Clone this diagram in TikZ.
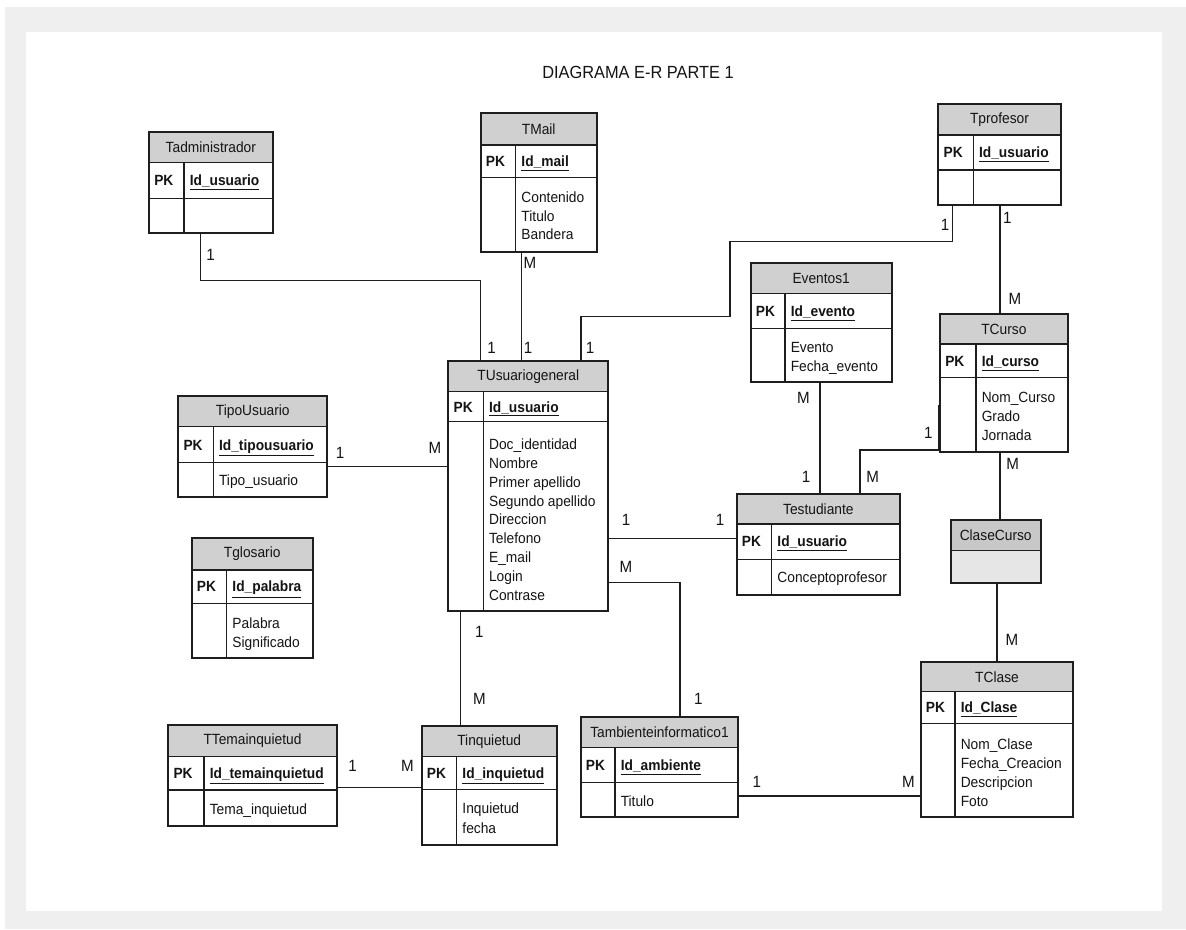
\documentclass[tikz,border=0pt]{standalone}
\usepackage{fontspec}
\setmainfont{Liberation Sans}[FakeStretch=0.93]
\usetikzlibrary{fit}
\definecolor{framegray}{HTML}{EFEFEF}
\definecolor{hdrgray}{HTML}{D0D0D0}
\definecolor{hdrgraydark}{HTML}{C8C8C8}
\definecolor{ccbody}{HTML}{E6E6E6}
\definecolor{lnc}{HTML}{1E1E1E}
\definecolor{txc}{HTML}{141414}
\tikzset{
  hdrfill/.style={fill=hdrgray},
  tline/.style={draw=lnc, line width=1.1pt},
  tframe/.style={draw=lnc, line width=1.3pt, inner sep=0pt},
  ttitle/.style={font=\fontsize{11.1}{13}\selectfont, inner sep=0pt, text=txc},
  tpk/.style={font=\fontsize{11.1}{13}\selectfont\bfseries, inner sep=0pt, text=txc, anchor=base west},
  tfld/.style={font=\fontsize{11.1}{13}\selectfont, inner sep=0pt, text=txc, anchor=base west},
  conn/.style={draw=lnc, line width=1pt},
  card/.style={font=\fontsize{12.2}{14}\selectfont, inner sep=0pt, text=txc},
  ttl/.style={font=\fontsize{13.2}{15}\selectfont, inner sep=0pt, text=txc}
}
% table box: id, x1, y1, x2, y2, yh, ypk, xd, title
\newcommand\tblbox[9]{%
  \def\Ta{#2}\def\Tb{#3}\def\Tc{#4}\def\Td{#5}\def\Th{#6}\def\Tp{#7}\def\Tx{#8}\def\Tid{#1}%
  \fill[hdrfill] (#2,#3) rectangle (#4,#6);
  \draw[tline] (#2,#6) -- (#4,#6) (#2,#7) -- (#4,#7) (#8,#6) -- (#8,#5);
  \node[tframe, fit={(#2,#3) (#4,#5)}] (#1) {};
  \node[ttitle] (#1-t) at ({(#2+#4)/2},{(#3+#6)/2}) {#9};
}
% pk row: field name
\newcommand\tblpk[1]{%
  \node[tpk] (\Tid-pk) at ({\Ta+5},{(\Th+\Tp)/2+5.3}) {PK};
  \node[tpk] (\Tid-k) at ({\Tx+5.5},{(\Th+\Tp)/2+5.3}) {\underline{#1}};
}
% fields: first center y, spacing, list
\newcommand\tblfields[3]{%
  \foreach \f [count=\i] in {#3} {\node[tfld] (\Tid-f\i) at ({\Tx+5.5},{#1+(\i-1)*#2+5.3}) {\f};}
}
\begin{document}
\begin{tikzpicture}[x=0.75pt,y=-0.75pt]
\useasboundingbox (0,0) rectangle (1186,929);
\fill[white] (0,0) rectangle (1186,929);
\fill[framegray] (5,7) rectangle (1186,929);
\fill[white] (26,32) rectangle (1162,911);

\node[ttl] (title) at (638,72) {DIAGRAMA E-R PARTE 1};

% ---- tables
\tblbox{tadm}{149}{132.3}{272.7}{232.7}{162.7}{198.3}{184}{Tadministrador}
\tblpk{Id\_usuario}

\tblbox{tmail}{480.7}{113.3}{596.7}{251.7}{145}{177.3}{515.7}{TMail}
\tblpk{Id\_mail}
\tblfields{197}{18.8}{Contenido,Titulo,Bandera}

\tblbox{tprof}{938.3}{104}{1060.7}{205}{135}{170}{973.3}{Tprofesor}
\tblpk{Id\_usuario}

\tblbox{tev}{750.7}{263.3}{891.7}{382.3}{293.3}{328.3}{785}{Eventos1}
\tblpk{Id\_evento}
\tblfields{346.7}{19}{Evento,Fecha\_evento}

\tblbox{tcur}{940}{314}{1067.7}{451.7}{344}{377.7}{976}{TCurso}
\tblpk{Id\_curso}
\tblfields{397.3}{19}{Nom\_Curso,Grado,Jornada}

\tblbox{tus}{448.3}{360.7}{608.3}{610.7}{391.7}{421.7}{483.3}{TUsuariogeneral}
\tblpk{Id\_usuario}
\tblfields{444.3}{18.8}{Doc\_identidad,Nombre,Primer apellido,Segundo apellido,Direccion,Telefono,E\_mail,Login,Contrase}

\tblbox{ttipo}{178.3}{396}{327.3}{496.7}{426.7}{462.7}{213.3}{TipoUsuario}
\tblpk{Id\_tipousuario}
\tblfields{480}{18.8}{Tipo\_usuario}

\tblbox{tglo}{191.7}{538.3}{312.7}{658.3}{570}{603.3}{226.7}{Tglosario}
\tblpk{Id\_palabra}
\tblfields{623.3}{18.6}{Palabra,Significado}

\tblbox{test}{736.7}{494}{900}{595}{524}{559.3}{771.7}{Testudiante}
\tblpk{Id\_usuario}
\tblfields{577.5}{18.8}{Conceptoprofesor}

\tblbox{tclase}{920.7}{661.7}{1073.3}{817.3}{691.7}{723.3}{955}{TClase}
\tblpk{Id\_Clase}
\tblfields{744}{19}{Nom\_Clase,Fecha\_Creacion,Descripcion,Foto}

\tblbox{ttema}{168.3}{725}{336.7}{826}{756.7}{790}{204}{TTemainquietud}
\tblpk{Id\_temainquietud}
\tblfields{809}{18.8}{Tema\_inquietud}

\tblbox{tinq}{421.7}{726}{556.7}{845}{756.7}{789.3}{456.7}{Tinquietud}
\tblpk{Id\_inquietud}
\tblfields{808.3}{20}{Inquietud,fecha}

\tblbox{tamb}{580.7}{716.7}{738.3}{816.7}{747.3}{782.7}{615}{Tambienteinformatico1}
\tblpk{Id\_ambiente}
\tblfields{801}{18.8}{Titulo}

% ClaseCurso (no key rows)
\fill[hdrgraydark] (950.7,520) rectangle (1040.7,550.7);
\fill[ccbody] (950.7,550.7) rectangle (1040.7,583.3);
\draw[tline] (950.7,550.7) -- (1040.7,550.7);
\node[tframe, fit={(950.7,520) (1040.7,583.3)}] (tcc) {};
\node[ttitle] (tcc-t) at (995.7,535.3) {ClaseCurso};

% ---- connectors
\coordinate (c1a) at (200.7,280.7);
\coordinate (c1b) at (480.7,280.7);
\draw[conn] (tadm.south -| c1a) -- (c1a) -- (c1b) -- (c1b |- tus.north);

\coordinate (c2) at (521.7,300);
\draw[conn] (tmail.south -| c2) -- (c2 |- tus.north);

\coordinate (c3a) at (952.7,241.7);
\coordinate (c3b) at (730,241.7);
\coordinate (c3c) at (730,316.7);
\coordinate (c3d) at (581,316.7);
\draw[conn] (tprof.south -| c3a) -- (c3a) -- (c3b) -- (c3c) -- (c3d) -- (c3d |- tus.north);

\coordinate (c4) at (1000,260);
\draw[conn] (tprof.south -| c4) -- (c4 |- tcur.north);

\coordinate (c5) at (820,440);
\draw[conn] (tev.south -| c5) -- (c5 |- test.north);

\coordinate (c6a) at (860,450);
\coordinate (c6c) at (940,405);
\draw[conn] (test.north -| c6a) -- (c6a) -- (tcur.west |- c6a) -- (tcur.west |- c6c);

\coordinate (c7) at (1000,480);
\draw[conn] (tcur.south -| c7) -- (c7 |- tcc.north);

\coordinate (c8) at (997,620);
\draw[conn] (tcc.south -| c8) -- (c8 |- tclase.north);

\coordinate (c9) at (380,466.7);
\draw[conn] (ttipo.east |- c9) -- (tus.west |- c9);

\coordinate (c10) at (670,538.3);
\draw[conn] (tus.east |- c10) -- (test.west |- c10);

\coordinate (c11) at (680,582.7);
\draw[conn] (tus.east |- c11) -- (c11) -- (c11 |- tamb.north);

\coordinate (c12) at (460.7,660);
\draw[conn] (tus.south -| c12) -- (c12 |- tinq.north);

\coordinate (c13) at (380,787.7);
\draw[conn] (ttema.east |- c13) -- (tinq.west |- c13);

\coordinate (c14) at (830,796);
\draw[conn] (tamb.east |- c14) -- (tclase.west |- c14);

% ---- cardinalities
\node[card] (l1a) at (210.7,255) {1};
\node[card] (l1b) at (491.7,348) {1};
\node[card] (l2a) at (530,263) {M};
\node[card] (l2b) at (528,348) {1};
\node[card] (l3a) at (945,225) {1};
\node[card] (l3b) at (590,348) {1};
\node[card] (l4a) at (1007.3,218.3) {1};
\node[card] (l4b) at (1015,299.3) {M};
\node[card] (l5a) at (803.3,398.3) {M};
\node[card] (l5b) at (806,476.7) {1};
\node[card] (l6a) at (928.3,433.3) {1};
\node[card] (l6b) at (872.7,476.7) {M};
\node[card] (l7) at (1012.7,464) {M};
\node[card] (l8) at (1012,640) {M};
\node[card] (l9a) at (340,453.3) {1};
\node[card] (l9b) at (435,448.3) {M};
\node[card] (l10a) at (626,520) {1};
\node[card] (l10b) at (720,520) {1};
\node[card] (l11a) at (626,566.7) {M};
\node[card] (l11b) at (698.3,699.3) {1};
\node[card] (l12a) at (479.3,632.3) {1};
\node[card] (l12b) at (479.3,699.3) {M};
\node[card] (l13a) at (352.7,766) {1};
\node[card] (l13b) at (407.3,766) {M};
\node[card] (l14a) at (756.7,781.7) {1};
\node[card] (l14b) at (908.3,781.7) {M};
\end{tikzpicture}
\end{document}
